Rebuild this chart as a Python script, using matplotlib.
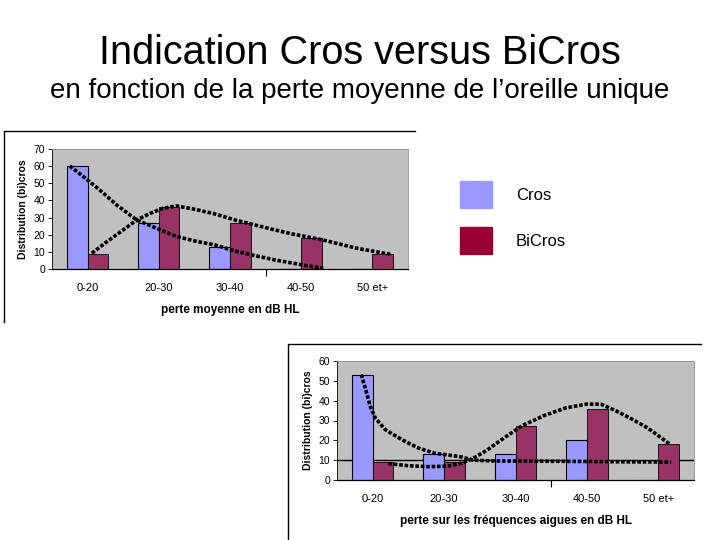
import matplotlib
matplotlib.use("Agg")
import matplotlib.pyplot as plt
from matplotlib.patches import Rectangle
from matplotlib.lines import Line2D

# slide text
title = "Indication Cros versus BiCros"
subtitle = "en fonction de la perte moyenne de l\u2019oreille unique"
series_names = ["Cros", "BiCros"]

# chart 1 : perte moyenne
cats1 = ["0-20", "20-30", "30-40", "40-50", "50 et+"]
moy_cros = [60, 27, 13, 0, 0]
moy_bicros = [9, 36, 27, 18, 9]
# trend curves (x in category units)
moy_cros_tx = [-0.25, -0.06, 0.17, 0.41, 0.69, 0.97, 1.25, 1.51, 1.79, 2.07, 2.35, 2.63, 2.87, 3.08, 3.31]
moy_cros_ty = [60.1, 53.9, 46.1, 37.3, 28.6, 23.7, 19.0, 16.3, 14.0, 10.5, 7.8, 5.3, 3.5, 1.9, 0.4]
moy_bicros_tx = [0.06, 0.27, 0.50, 0.69, 0.88, 1.06, 1.25, 1.51, 1.79, 2.07, 2.35, 2.63, 2.87, 3.31, 3.78, 4.25]
moy_bicros_ty = [9.2, 15.9, 22.8, 28.6, 32.5, 35.4, 36.8, 34.8, 32.1, 28.6, 25.7, 22.8, 20.5, 16.9, 12.1, 8.6]

# chart 2 : frequences aigues
cats2 = ["0-20", "20-30", "30-40", "40-50", "50 et+"]
aigu_cros = [53, 13, 13, 20, 0]
aigu_bicros = [9, 9, 27, 36, 18]
aigu_cros_tx = [-0.16, -0.105, -0.035, 0.035, 0.175, 0.41, 0.64, 0.87, 1.1, 1.25, 1.4, 1.7, 2.2, 2.8, 3.4, 3.9, 4.18]
aigu_cros_ty = [53.2, 46.5, 37.2, 31.3, 25.4, 20.3, 16.1, 13.5, 12.4, 11.6, 10.0, 9.6, 9.5, 9.4, 9.2, 9.1, 9.0]
aigu_bicros_tx = [0.22, 0.5, 0.8, 1.05, 1.25, 1.4, 1.6, 1.85, 2.1, 2.4, 2.7, 3.0, 3.2, 3.4, 3.6, 3.85, 4.16]
aigu_bicros_ty = [8.3, 7.2, 6.7, 7.0, 8.5, 10.8, 15.0, 21.5, 27.5, 32.5, 36.3, 38.3, 38.2, 35.0, 31.3, 26.3, 18.1]

CROS = "#9999FF"
BICROS = "#993366"
BICROS_LEG = "#990033"
W, H = 720, 540

plt.rcParams["font.family"] = ["Liberation Sans", "DejaVu Sans"]


def px_axes(fig, x0, y0, x1, y1):
    # pixel box (top-left origin) -> figure axes
    return fig.add_axes([x0 / W, 1 - y1 / H, (x1 - x0) / W, (y1 - y0) / H])


def bar_chart(ax, cats, cros, bicros, trends, ymax, xlabel):
    x = list(range(len(cats)))
    bw = 0.29
    ax.set_facecolor("#C0C0C0")
    ax.bar([i - bw / 2 for i in x], cros, bw, color=CROS, edgecolor="black", linewidth=0.8, zorder=2)
    ax.bar([i + bw / 2 for i in x], bicros, bw, color=BICROS, edgecolor="black", linewidth=0.6, zorder=2)
    for tx, ty in trends:
        ax.plot(tx, ty, color="black", linewidth=2.6, linestyle=(0, (1, 0.5)), zorder=3)
    ax.set_xlim(-0.5, len(cats) - 0.5)
    ax.set_ylim(0, ymax)
    ax.set_yticks(range(0, ymax + 1, 10))
    ax.set_xticks(x)
    ax.set_xticklabels(cats)
    ax.set_xticks([2.5], minor=True)
    ax.tick_params(axis="x", which="major", length=0, pad=10, labelsize=8)
    ax.tick_params(axis="x", which="minor", length=5, width=0.8)
    ax.tick_params(axis="y", length=3, width=0.6, pad=2, labelsize=7.5)
    for s in ["top", "right"]:
        ax.spines[s].set_color("#8C8C8C")
        ax.spines[s].set_linewidth(0.6)
    ax.spines["left"].set_linewidth(0.6)
    ax.spines["bottom"].set_linewidth(0.9)
    ax.set_ylabel("Distribution (bi)cros", fontsize=7.5, fontweight="bold", labelpad=4)
    ax.set_xlabel(xlabel, fontsize=8.5, fontweight="bold", labelpad=8)


fig = plt.figure(figsize=(7.2, 5.4), dpi=100)

fig.text(0.5, 1 - 64 / H, title, ha="center", va="baseline", fontsize=28.5)
fig.text(0.5, 1 - 98 / H, subtitle, ha="center", va="baseline", fontsize=20)

# picture frames (top and left edges only)
fig.add_artist(Line2D([4 / W, 4 / W, 415 / W], [1 - 322 / H, 1 - 131 / H, 1 - 131 / H], color="black", linewidth=1))
fig.add_artist(Line2D([288 / W, 288 / W, 701 / W], [0, 1 - 344 / H, 1 - 344 / H], color="black", linewidth=1))

ax1 = px_axes(fig, 52, 149, 408, 269)
bar_chart(ax1, cats1, moy_cros, moy_bicros,
          [(moy_cros_tx, moy_cros_ty), (moy_bicros_tx, moy_bicros_ty)],
          70, "perte moyenne en dB HL")

ax2 = px_axes(fig, 337, 361, 694, 480)
ax2.axhline(10, color="black", linewidth=1, zorder=1)
bar_chart(ax2, cats2, aigu_cros, aigu_bicros,
          [(aigu_cros_tx, aigu_cros_ty), (aigu_bicros_tx, aigu_bicros_ty)],
          60, "perte sur les fr\u00e9quences aigues en dB HL")

# slide legend
for (name, col, y0) in [(series_names[0], CROS, 181), (series_names[1], BICROS_LEG, 227)]:
    fig.add_artist(Rectangle((460 / W, 1 - (y0 + 27) / H), 32 / W, 27 / H, color=col, transform=fig.transFigure))
    fig.text(516 / W, 1 - (y0 + 14) / H, name, ha="left", va="center", fontsize=12)

fig.savefig("out.png", dpi=100)
